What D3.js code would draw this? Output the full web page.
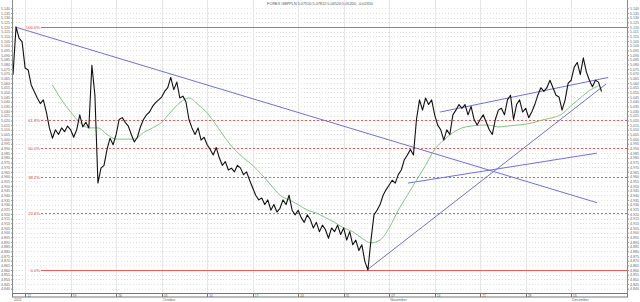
<!DOCTYPE html>
<html>
<head>
<meta charset="utf-8">
<title>GBPPLN</title>
<style>
  body { margin: 0; background: #fff; }
  text { font-family: "Liberation Sans", Arial, sans-serif; }
</style>
</head>
<body>
<svg width="640" height="302" id="chart"></svg>
<script src="https://cdn.jsdelivr.net/npm/d3@7/dist/d3.min.js"></script>
<script>
// price closes, one per bar
let closes = [
  5.069, 5.120, 5.108, 5.104, 5.076, 5.074, 5.058, 5.051, 5.044, 5.038,
  5.042, 5.029, 5.012, 5.001, 5.010, 5.005, 5.012, 5.008, 5.014, 5.010,
  5.002, 5.010, 5.026, 5.013, 5.018, 5.012, 5.079, 5.047, 4.953, 4.969,
  4.972, 4.989, 5.001, 4.994, 5.005, 5.021, 5.023, 5.018, 5.014, 5.005,
  4.997, 5.002, 5.013, 5.021, 5.026, 5.029, 5.035, 5.039, 5.042, 5.045,
  5.051, 5.055, 5.066, 5.053, 5.061, 5.044, 5.046, 5.040, 5.021, 5.012,
  5.005, 5.012, 4.999, 5.002, 4.994, 4.989, 4.983, 4.991, 4.980, 4.972,
  4.976, 4.967, 4.969, 4.965, 4.972, 4.969, 4.962, 4.965, 4.956, 4.948,
  4.940, 4.935, 4.937, 4.930, 4.935, 4.924, 4.930, 4.922, 4.926, 4.935,
  4.930, 4.940, 4.924, 4.919, 4.924, 4.916, 4.911, 4.919, 4.914, 4.905,
  4.911, 4.901, 4.908, 4.903, 4.894, 4.905, 4.901, 4.908, 4.898, 4.905,
  4.892, 4.901, 4.887, 4.892, 4.881, 4.887, 4.869, 4.860, 4.892, 4.919,
  4.924, 4.930, 4.940, 4.946, 4.951, 4.956, 4.953, 4.962, 4.967, 4.978,
  4.983, 4.989, 4.983, 5.021, 5.042, 5.031, 5.044, 5.037, 5.042, 5.026,
  5.015, 5.010, 4.999, 5.010, 5.005, 5.026, 5.031, 5.037, 5.033, 5.037,
  5.026, 5.035, 5.021, 5.015, 5.021, 5.026, 5.018, 5.010, 5.005, 5.021,
  5.031, 5.033, 5.026, 5.042, 5.047, 5.021, 5.037, 5.042, 5.029, 5.033,
  5.023, 5.029, 5.037, 5.047, 5.055, 5.051, 5.055, 5.063, 5.055, 5.047,
  5.045, 5.031, 5.042, 5.060, 5.063, 5.077, 5.082, 5.069, 5.087, 5.072,
  5.063, 5.056, 5.063, 5.061, 5.051
];

// moving average, read every 3 bars starting at bar 13
let maStart = 13;
let maStep = 3;
let maValues = [
  5.058, 5.042, 5.029, 5.018, 5.012, 5.012, 5.005, 5.000, 5.000, 5.000,
  5.007, 5.012, 5.018, 5.029, 5.039, 5.044, 5.037, 5.028, 5.015, 5.001,
  4.989, 4.980, 4.972, 4.962, 4.951, 4.940, 4.935, 4.930, 4.924, 4.921,
  4.916, 4.911, 4.905, 4.901, 4.894, 4.889, 4.892, 4.905, 4.924, 4.940,
  4.956, 4.972, 4.989, 4.999, 5.007, 5.012, 5.014, 5.015, 5.015, 5.013,
  5.014, 5.015, 5.016, 5.018, 5.021, 5.023, 5.027, 5.036, 5.044, 5.052,
  5.057
];

// hand drawn trend lines [bar1, price1, bar2, price2]
let trendLines = [
  [0.66, 5.120, 192.5, 4.932],
  [130.2, 4.953, 192.5, 4.985],
  [140.8, 5.029, 196.2, 5.066],
  [116.7, 4.860, 195.5, 5.059]
];

// fibonacci retracement
let fibHigh = 5.120;
let fibLow = 4.860;
let fibLevels = [1, 0.618, 0.5, 0.382, 0.236, 0];
let fibLabels = ["100.0%", "61.8%", "50.0%", "38.2%", "23.6%", "0.0%"];

// axis ticks
let yTicks = d3.range(4840, 5141, 5).map(v => v / 1000);
let weekTicks = [4, 19, 34, 49, 64, 79, 94, 109, 124, 139, 154, 169, 184];
let weekLabels = ["12", "19", "26", "03", "10", "17", "24", "31", "07", "14", "21", "28", "05"];
let monthTicks = [0, 49, 124, 184];
let monthLabels = ["2011", "October", "November", "December"];

let title = "FOREX GBPPLN 5.07550;5.07812;5.04520;5.05200; -0.02350";

let pLeft = 13, pRight = 627, pTop = 0, pBottom = 294;

let svg = d3.select("#chart");

let x = d3.scaleLinear().domain([0, 202.4]).range([pLeft, pRight]);
let y = d3.scaleLinear().domain([4.8354, 5.1467]).range([293, 2]);

// grid
let grid = svg.append("g");
grid.selectAll(".hg")
  .data(yTicks)
  .enter().append("line")
  .attr("x1", pLeft).attr("x2", pRight)
  .attr("y1", d => Math.round(y(d)) + 0.5)
  .attr("y2", d => Math.round(y(d)) + 0.5)
  .style("stroke", "#e4e4e4")
  .style("stroke-dasharray", "1,2")
  .style("stroke-width", 1);

grid.selectAll(".vg")
  .data(weekTicks)
  .enter().append("line")
  .attr("x1", d => Math.round(x(d)) + 0.5)
  .attr("x2", d => Math.round(x(d)) + 0.5)
  .attr("y1", pTop).attr("y2", pBottom)
  .style("stroke", "#e6e6e6")
  .style("stroke-width", 1);

// fibonacci lines
let fib = svg.append("g");
fibLevels.forEach(function(lv, i) {
  let price = fibLow + (fibHigh - fibLow) * lv;
  let yy = Math.round(y(price)) + 0.5;
  let solid = (lv === 1 || lv === 0);
  fib.append("line")
    .attr("x1", 41).attr("x2", pRight)
    .attr("y1", yy).attr("y2", yy)
    .attr("stroke", "#f05a5a")
    .attr("stroke-width", 1)
    .attr("stroke-dasharray", solid ? "none" : "2,2");
  fib.append("text")
    .attr("x", 40).attr("y", yy)
    .attr("dy", "0.35em")
    .attr("text-anchor", "end")
    .attr("font-size", 4.2)
    .attr("fill", "#e04848")
    .text(fibLabels[i]);
});

// trend lines
svg.append("g").selectAll("line")
  .data(trendLines)
  .enter().append("line")
  .attr("x1", d => x(d[0])).attr("y1", d => y(d[1]))
  .attr("x2", d => x(d[2])).attr("y2", d => y(d[3]))
  .style("stroke", "#7070e0")
  .style("stroke-width", 1);

// moving average
let maLine = d3.line()
  .x((d, i) => x(maStart + i * maStep))
  .y(d => y(d))
  .curve(d3.curveMonotoneX);
svg.append("path")
  .attr("d", maLine(maValues))
  .style("fill", "none")
  .style("stroke", "#80c880")
  .style("stroke-width", 1);

// price
let priceLine = d3.line()
  .x((d, i) => x(i))
  .y(d => y(d));
svg.append("path")
  .attr("d", priceLine(closes))
  .style("fill", "none")
  .style("stroke", "#111")
  .style("stroke-width", 1.1)
  .style("stroke-linejoin", "round");

// axes
let fmt = d3.format(".3f");
let leftAxis = svg.append("g")
  .attr("transform", "translate(" + (pLeft - 0.5) + ",0)")
  .call(d3.axisLeft(y).tickValues(yTicks).tickSize(1.5).tickPadding(1).tickFormat(fmt));
let rightAxis = svg.append("g")
  .attr("transform", "translate(" + (pRight + 0.5) + ",0)")
  .call(d3.axisRight(y).tickValues(yTicks).tickSize(1.5).tickPadding(1).tickFormat(fmt));
[leftAxis, rightAxis].forEach(function(a) {
  a.select(".domain").attr("d", "M0,0V" + pBottom).style("stroke", "#888");
  a.selectAll("line").style("stroke", "#999");
  a.selectAll("text").attr("font-size", 3.6).style("fill", "#666");
});

// bottom time strip
let strip = svg.append("g");
strip.append("rect")
  .attr("x", pLeft - 0.5).attr("y", pBottom - 0.5)
  .attr("width", pRight - pLeft + 1).attr("height", 3.5)
  .style("fill", "#fff")
  .style("stroke", "#777")
  .style("stroke-width", 1);
strip.selectAll(".wt")
  .data(weekTicks)
  .enter().append("line")
  .attr("x1", d => Math.round(x(d)) + 0.5)
  .attr("x2", d => Math.round(x(d)) + 0.5)
  .attr("y1", pBottom).attr("y2", pBottom + 3)
  .style("stroke", "#777");
strip.selectAll(".wl")
  .data(weekTicks)
  .enter().append("text")
  .attr("x", d => x(d) + 2)
  .attr("y", pBottom + 3)
  .attr("font-size", 3.4)
  .style("fill", "#666")
  .text((d, i) => weekLabels[i]);
strip.selectAll(".ml")
  .data(monthTicks)
  .enter().append("text")
  .attr("x", d => x(d) + 1)
  .attr("y", 301)
  .attr("font-size", 3.6)
  .style("fill", "#666")
  .text((d, i) => monthLabels[i]);

// title
svg.append("text")
  .attr("x", 320).attr("y", 5)
  .attr("text-anchor", "middle")
  .attr("font-size", 3.8)
  .style("fill", "#555")
  .text(title);
</script>
</body>
</html>
